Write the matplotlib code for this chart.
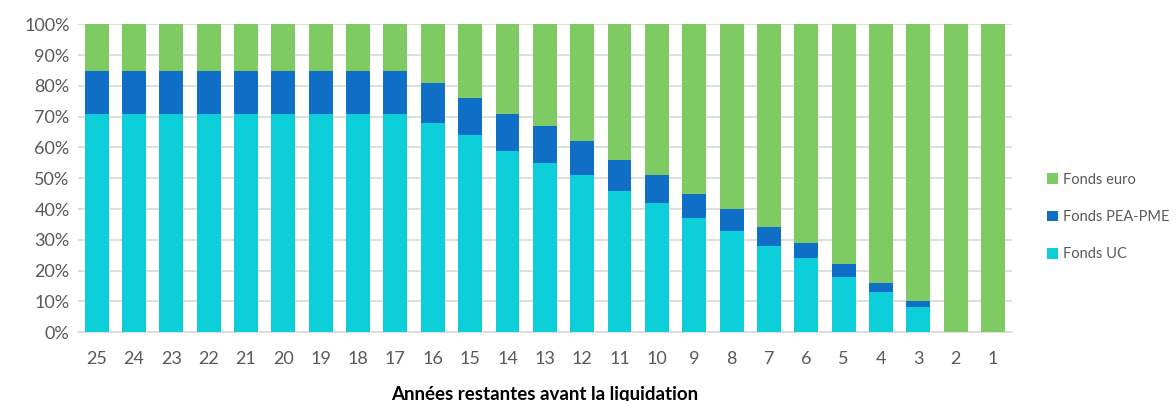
import numpy as np
import matplotlib
matplotlib.use('Agg')
import matplotlib.pyplot as plt
from matplotlib.ticker import PercentFormatter

# Data
years = ['25', '24', '23', '22', '21', '20', '19', '18', '17', '16', '15', '14', '13',
         '12', '11', '10', '9', '8', '7', '6', '5', '4', '3', '2', '1']
fonds_uc = [71, 71, 71, 71, 71, 71, 71, 71, 71, 68, 64, 59, 55,
            51, 46, 42, 37, 33, 28, 24, 18, 13, 8, 0, 0]
fonds_pea = [14, 14, 14, 14, 14, 14, 14, 14, 14, 13, 12, 12, 12,
             11, 10, 9, 8, 7, 6, 5, 4, 3, 2, 0, 0]
fonds_euro = [100 - u - p for u, p in zip(fonds_uc, fonds_pea)]

C_UC = '#0DCFDA'
C_PEA = '#0F6FC6'
C_EURO = '#7ECA63'
TXT = '#595959'

plt.rcParams['font.family'] = ['Lato', 'DejaVu Sans']

fig = plt.figure(figsize=(11.76, 4.01), dpi=100)
ax = fig.add_axes([0.0663, 0.172, 0.794, 0.767])

x = np.arange(len(years))
w = 0.64
uc = np.array(fonds_uc)
pea = np.array(fonds_pea)
euro = np.array(fonds_euro)

ax.bar(x, uc, w, color=C_UC, label='Fonds UC', zorder=3)
ax.bar(x, pea, w, bottom=uc, color=C_PEA, label='Fonds PEA-PME', zorder=3)
ax.bar(x, euro, w, bottom=uc + pea, color=C_EURO, label='Fonds euro', zorder=3)

ax.set_xlim(-0.5, len(years) - 0.5)
ax.set_ylim(0, 100)
ax.set_yticks(np.arange(0, 101, 10))
ax.yaxis.set_major_formatter(PercentFormatter(decimals=0))
ax.set_xticks(x)
ax.set_xticklabels(years)
ax.tick_params(axis='both', length=0, labelsize=13, colors=TXT)
ax.tick_params(axis='x', pad=14)
ax.tick_params(axis='y', pad=6)

ax.grid(axis='y', color='#D9D9D9', linewidth=1.2, zorder=0)
for s in ['top', 'right', 'left']:
    ax.spines[s].set_visible(False)
ax.spines['bottom'].set_color('#D9D9D9')
ax.spines['bottom'].set_linewidth(1.2)

ax.set_xlabel('Années restantes avant la liquidation', fontsize=13.5,
              fontweight='bold', color='black', labelpad=13)

handles, labels = ax.get_legend_handles_labels()
leg = fig.legend(handles[::-1], labels[::-1], loc='center left',
                 bbox_to_anchor=(0.89, 0.459), frameon=False, fontsize=10.5,
                 handlelength=0.75, handleheight=0.75, handletextpad=0.35,
                 labelspacing=1.6, labelcolor=TXT, borderpad=0, borderaxespad=0)

fig.savefig('out.png', dpi=100)
